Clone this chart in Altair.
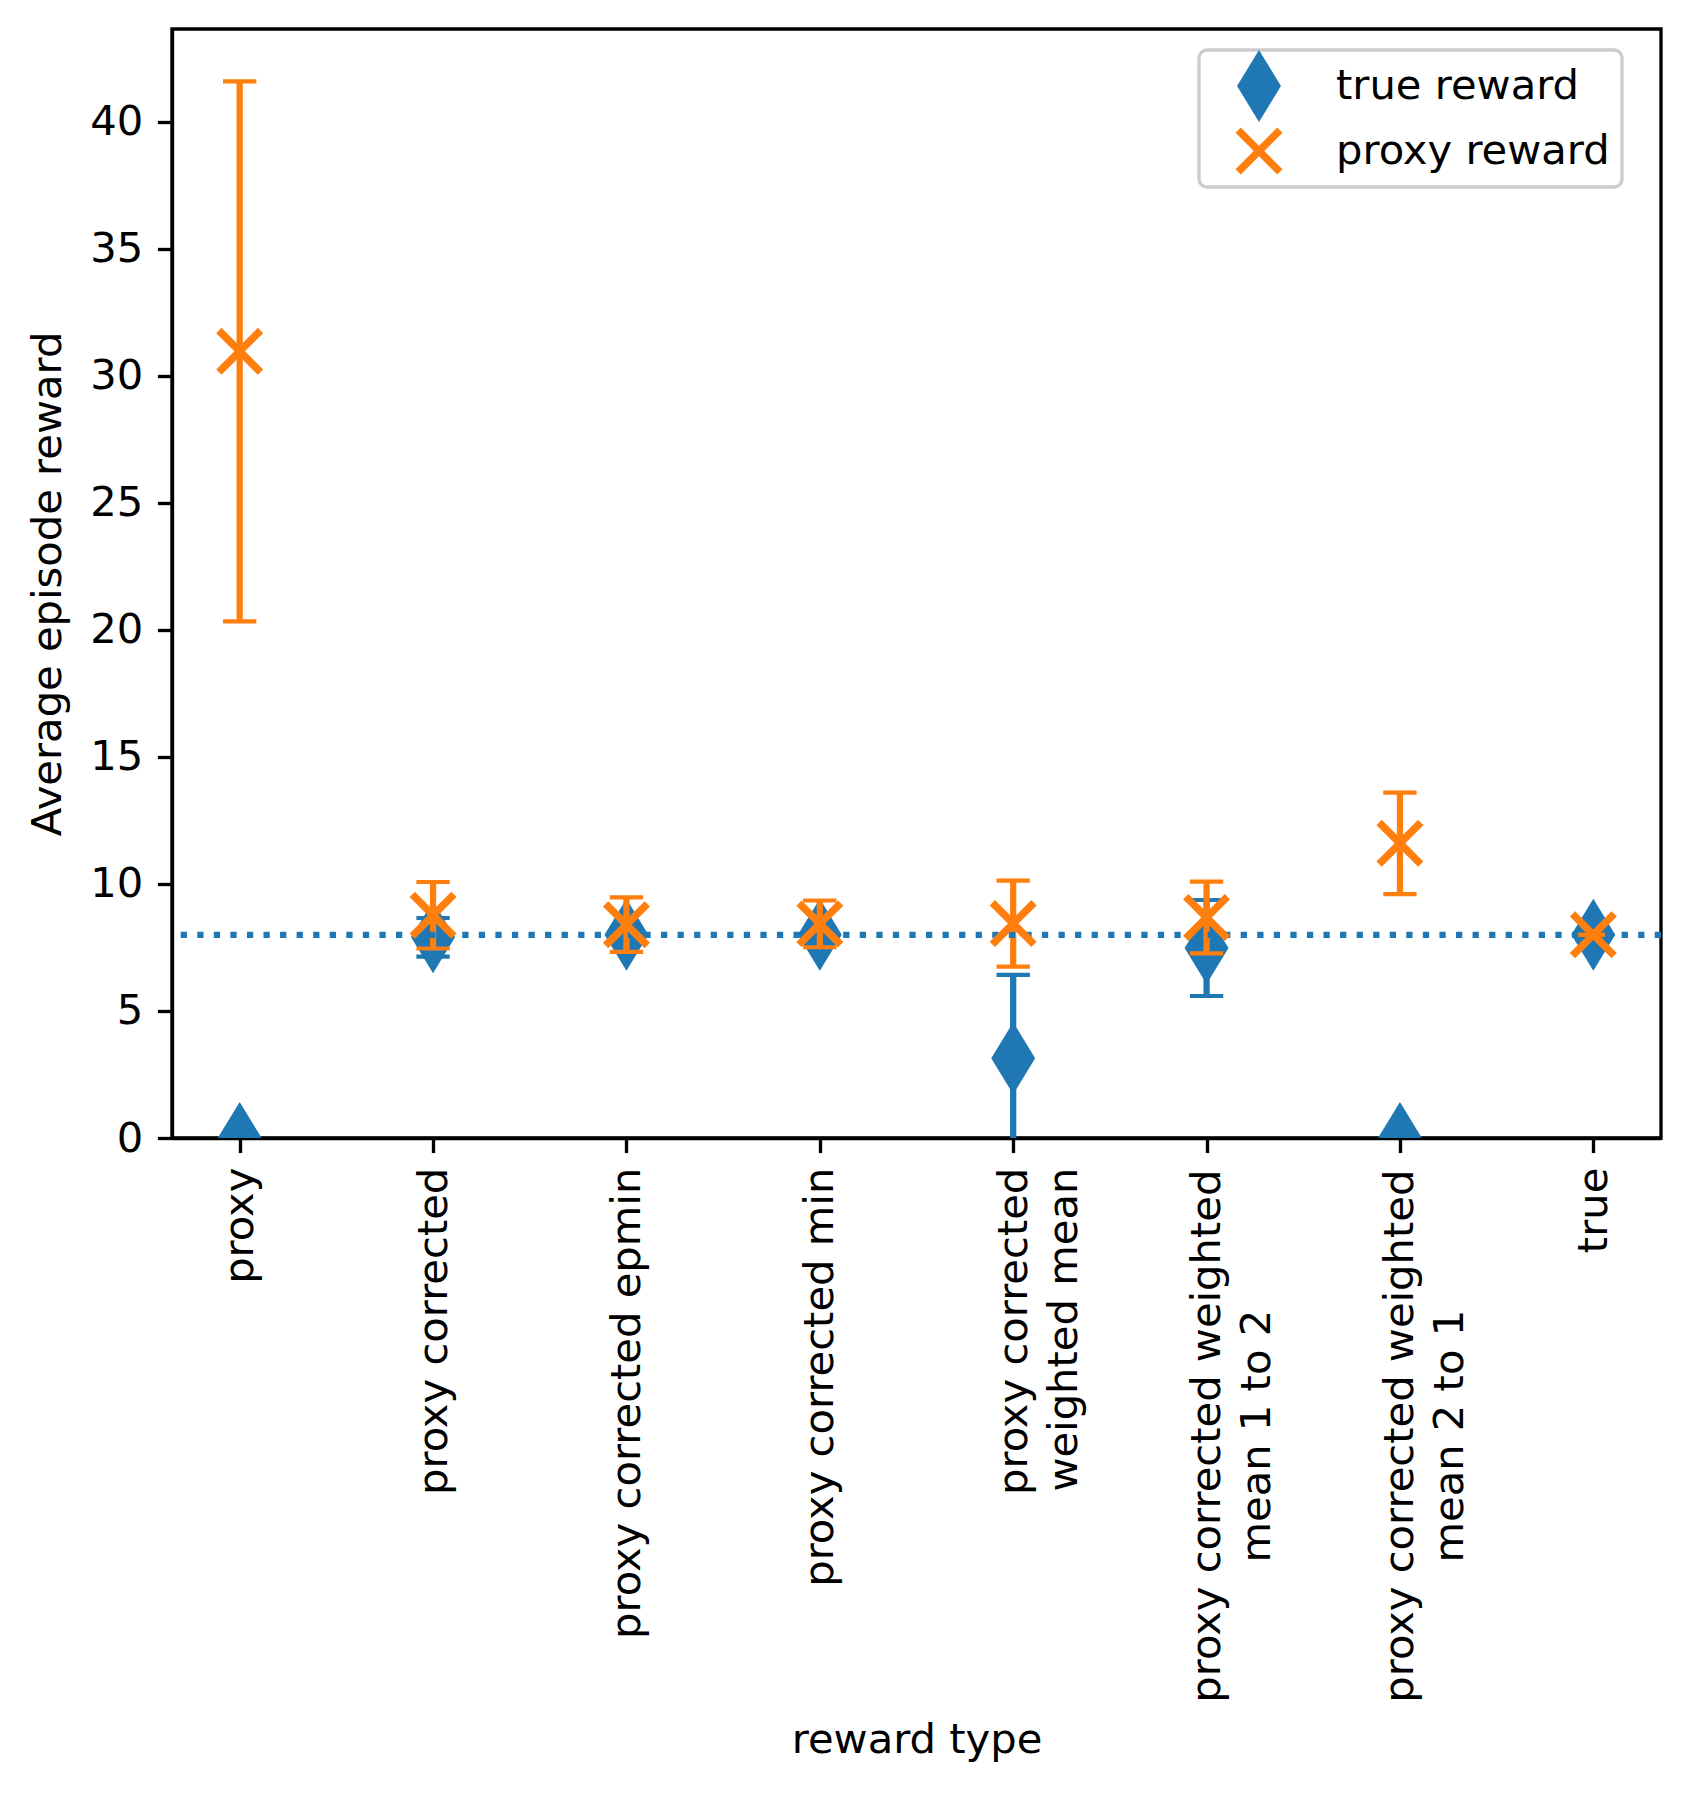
import altair as alt
import pandas as pd

# ---------------- data ----------------
categories = [
    "proxy",
    "proxy corrected",
    "proxy corrected epmin",
    "proxy corrected min",
    "proxy corrected\nweighted mean",
    "proxy corrected weighted\nmean 1 to 2",
    "proxy corrected weighted\nmean 2 to 1",
    "true",
]
true_mean = [0.0, 7.9, 8.0, 8.0, 3.14, 7.48, 0.0, 8.0]
true_err = [0.0, 0.76, 0.25, 0.25, 3.28, 1.89, 0.0, 0.0]
proxy_mean = [30.97, 8.77, 8.40, 8.43, 8.44, 8.68, 11.60, 8.0]
proxy_err = [10.63, 1.31, 1.07, 0.92, 1.69, 1.41, 2.00, 0.0]
series_names = ["true reward", "\u00a0proxy reward"]
reference_line = [8.0]
y_ticks = [0, 5, 10, 15, 20, 25, 30, 35, 40]
y_max = 43.66

# ---------------- styling ----------------
BLUE = "#1f77b4"
ORANGE = "#ff7f0e"
PT = 300 / 72.0
FONT = "DejaVu Sans"
FS = 10 * PT

DIAMOND = "M0,-1.5L0.915,0L0,1.5L-0.915,0Z"
XMARK = ("M0.758,0.979L0.979,0.758L0.221,0L0.979,-0.758L0.758,-0.979L0,-0.221"
         "L-0.758,-0.979L-0.979,-0.758L-0.221,0L-0.979,0.758L-0.758,0.979L0,0.221Z")

rows = []
for i, c in enumerate(categories):
    rows.append(dict(cat=c, series=series_names[0], mean=true_mean[i],
                     lo=true_mean[i] - true_err[i], hi=true_mean[i] + true_err[i]))
    rows.append(dict(cat=c, series=series_names[1], mean=proxy_mean[i],
                     lo=proxy_mean[i] - proxy_err[i], hi=proxy_mean[i] + proxy_err[i]))
df = pd.DataFrame(rows)
ref_df = pd.DataFrame({"ref": reference_line})

multi = "indexof(datum.value, 'weighted\\n') >= 0"
x_axis = alt.Axis(
    title="reward type",
    labelAngle=270,
    labelAlign={"condition": {"test": multi, "value": "center"}, "value": "right"},
    labelPadding={"condition": {"test": multi, "value": 14.6 + 268.5}, "value": 14.6},
    labelBaseline="middle",
    labelExpr="split(datum.value, '\\n')",
    labelLineHeight=50,
    labelLimit=0,
    labelOverlap=False,
    tickSize=3.5 * PT,
    titleY=581,
    titleBaseline="top",
)
x_enc = alt.X("cat:N", scale=alt.Scale(type="point", domain=categories, padding=0.35),
              axis=x_axis)

y_axis = alt.Axis(title="Average episode reward", values=y_ticks, tickSize=3.5 * PT,
                  labelPadding=3.5 * PT, titlePadding=20, grid=False)
y_scale = alt.Scale(domain=[0, y_max], nice=False, zero=False)


def ycode(field):
    return alt.Y(field, scale=y_scale, axis=y_axis)


legend = alt.Legend(title=None, orient="none", legendX=1027, legendY=21, direction="vertical")
color_enc = alt.Color("series:N", scale=alt.Scale(domain=series_names, range=[BLUE, ORANGE]),
                      legend=legend)
shape_enc = alt.Shape("series:N", scale=alt.Scale(domain=series_names, range=[DIAMOND, XMARK]),
                      legend=legend)

base = alt.Chart(df)


def series_layers(name, col):
    sub = base.transform_filter(alt.datum.series == name)
    bars = sub.mark_rule(color=col, strokeWidth=1.5 * PT, clip=True).encode(
        x=x_enc, y=ycode("lo:Q"), y2="hi:Q")
    caps = sub.transform_fold(["lo", "hi"], as_=["bound", "val"]).mark_tick(
        color=col, size=8 * PT, thickness=1.0 * PT, opacity=1, clip=True).encode(
        x=x_enc, y=ycode("val:Q"))
    pts = sub.mark_point(filled=True, size=2304, opacity=1, strokeWidth=0, clip=True).encode(
        x=x_enc, y=ycode("mean:Q"), color=color_enc, shape=shape_enc)
    return bars, caps, pts


b_bars, b_caps, b_pts = series_layers(series_names[0], BLUE)
o_bars, o_caps, o_pts = series_layers(series_names[1], ORANGE)

hline = alt.Chart(ref_df).mark_rule(color=BLUE, strokeWidth=1.5 * PT,
                                    strokeDash=[1.5 * PT, 2.475 * PT]).encode(y=ycode("ref:Q"))

chart = alt.layer(b_bars, b_caps, b_pts, o_bars, o_caps, hline, o_pts).properties(
    width=1489, height=1109,
    autosize=alt.AutoSizeParams(type="none"),
    padding={"left": 164, "top": 21, "right": 20, "bottom": 640},
    background="white",
).configure(font=FONT).configure_view(
    stroke="black", strokeWidth=0.8 * PT
).configure_axis(
    domainColor="black", domainWidth=0.8 * PT, tickColor="black", tickWidth=0.8 * PT,
    labelColor="black", titleColor="black", labelFont=FONT, titleFont=FONT,
    labelFontSize=FS, titleFontSize=FS, titleFontWeight="normal", grid=False,
).configure_legend(
    padding=12, fillColor="rgba(255,255,255,0.8)", strokeColor="#cccccc",
    strokeWidth=0.8 * PT, cornerRadius=8, labelFontSize=FS, labelFont=FONT,
    labelColor="black", symbolSize=2304, symbolStrokeWidth=0, symbolOpacity=1,
    symbolOffset=24, labelOffset=53, rowPadding=5, labelLimit=0,
)

chart.save("out.html", embed_options={"renderer": "svg", "actions": False})
